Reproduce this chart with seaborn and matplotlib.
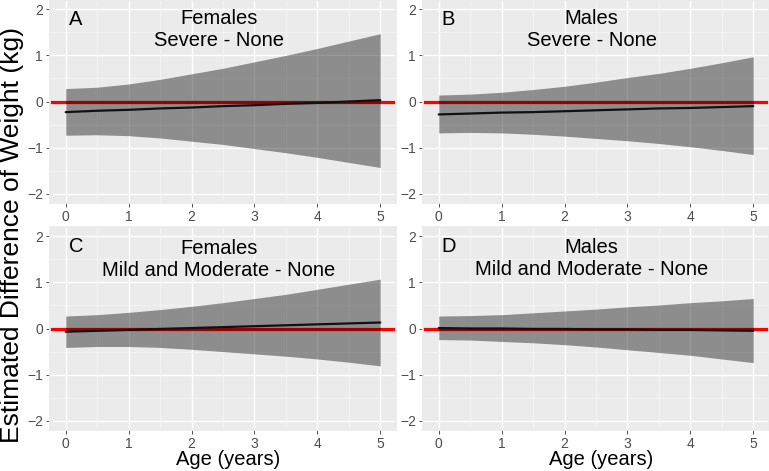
import seaborn as sns
import matplotlib.pyplot as plt
import pandas as pd
import numpy as np

# ages (years) at which the curves were read
age = [0, 0.5, 1, 1.5, 2, 2.5, 3, 3.5, 4, 4.5, 5]

# A: Females, Severe - None
a_mean = [-0.23, -0.20, -0.18, -0.15, -0.13, -0.10, -0.08, -0.05, -0.03, 0.00, 0.03]
a_lo = [-0.73, -0.72, -0.74, -0.79, -0.86, -0.93, -1.02, -1.11, -1.21, -1.32, -1.43]
a_hi = [0.28, 0.31, 0.38, 0.48, 0.60, 0.72, 0.86, 1.00, 1.15, 1.31, 1.47]

# B: Males, Severe - None
b_mean = [-0.28, -0.26, -0.24, -0.23, -0.21, -0.19, -0.17, -0.15, -0.14, -0.12, -0.10]
b_lo = [-0.68, -0.67, -0.68, -0.71, -0.75, -0.80, -0.85, -0.91, -0.98, -1.06, -1.15]
b_hi = [0.14, 0.16, 0.20, 0.26, 0.33, 0.42, 0.52, 0.61, 0.72, 0.84, 0.97]

# C: Females, Mild and Moderate - None
c_mean = [-0.07, -0.05, -0.03, -0.01, 0.01, 0.03, 0.05, 0.07, 0.09, 0.11, 0.13]
c_lo = [-0.41, -0.39, -0.39, -0.41, -0.45, -0.50, -0.55, -0.60, -0.66, -0.73, -0.81]
c_hi = [0.27, 0.30, 0.35, 0.41, 0.48, 0.56, 0.65, 0.74, 0.85, 0.96, 1.07]

# D: Males, Mild and Moderate - None
d_mean = [0.01, 0.00, 0.00, -0.01, -0.01, -0.02, -0.02, -0.03, -0.03, -0.04, -0.05]
d_lo = [-0.24, -0.25, -0.28, -0.31, -0.35, -0.40, -0.46, -0.52, -0.58, -0.66, -0.74]
d_hi = [0.27, 0.28, 0.30, 0.34, 0.38, 0.42, 0.47, 0.51, 0.56, 0.60, 0.65]

letters = ["A", "B", "C", "D"]
titles = ["Females\nSevere - None", "Males\nSevere - None",
          "Females\nMild and Moderate - None", "Males\nMild and Moderate - None"]
title_y = [1.57, 1.57, 1.5, 1.52]

panels = [(a_mean, a_lo, a_hi), (b_mean, b_lo, b_hi),
          (c_mean, c_lo, c_hi), (d_mean, d_lo, d_hi)]

sns.set_theme(style="darkgrid", rc={
    "axes.facecolor": "#EBEBEB",
    "grid.color": "white",
    "axes.edgecolor": "#EBEBEB",
    "xtick.color": "#4D4D4D",
    "ytick.color": "#4D4D4D",
    "xtick.bottom": True,
    "ytick.left": True,
    "xtick.major.size": 3,
    "ytick.major.size": 3,
    "text.color": "black",
    "axes.labelcolor": "black",
})
plt.rcParams['font.family'] = ['Liberation Sans', 'DejaVu Sans']

fig, axn = plt.subplots(2, 2, figsize=(7.69, 4.71), dpi=100)
plt.subplots_adjust(left=0.065, right=1.0, top=1.0, bottom=0.087, wspace=0.078, hspace=0.118)

for i, ax in enumerate(axn.flat):
    mean, lo, hi = panels[i]
    df = pd.DataFrame({"age": age, "mean": mean, "lo": lo, "hi": hi})
    ax.axhline(0, color="red", lw=2.3, zorder=1)
    ax.fill_between(df["age"], df["lo"], df["hi"], color="black", alpha=0.4, lw=0, zorder=2)
    sns.lineplot(data=df, x="age", y="mean", color="#111111", lw=1.6, ax=ax, zorder=3)
    ax.set_xlim(-0.25, 5.25)
    ax.set_ylim(-2.2, 2.2)
    ax.set_xticks(range(0, 6))
    ax.set_yticks([-2, -1, 0, 1, 2])
    ax.set_xticks(np.arange(0.5, 5, 1), minor=True)
    ax.set_yticks([-1.5, -0.5, 0.5, 1.5], minor=True)
    ax.grid(which="major", color="white", lw=1.0)
    ax.grid(which="minor", color="white", lw=0.5, alpha=0.6)
    ax.tick_params(which="minor", length=0)
    ax.tick_params(which="major", labelsize=10, pad=2, color="#333333", width=0.6)
    ax.set_xlabel("")
    ax.set_ylabel("")
    ax.text(0.05, 1.78, letters[i], fontsize=14.5, ha="left", va="center")
    ax.text(2.43, title_y[i], titles[i], fontsize=14.5, ha="center", va="center", linespacing=1.2)

for ax in axn[1]:
    ax.set_xlabel("Age (years)", fontsize=14.5)
    ax.xaxis.set_label_coords(0.515, -0.1)

fig.text(0.015, 0.501, "Estimated Difference of Weight (kg)", rotation=90,
         fontsize=19, ha="center", va="center")

fig.savefig("out.png", dpi=100)
